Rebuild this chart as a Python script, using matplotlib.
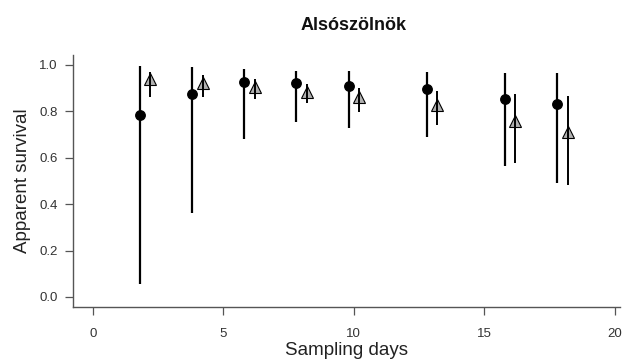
import matplotlib

matplotlib.use("Agg")
import matplotlib.pyplot as plt
import numpy as np

plt.rcParams["font.family"] = ["Liberation Sans", "DejaVu Sans"]

# sampling days, circles drawn slightly left, triangles slightly right
days = np.array([2, 4, 6, 8, 10, 13, 16, 18])
offset = 0.2

circle_est = [0.786, 0.874, 0.925, 0.921, 0.908, 0.895, 0.853, 0.833]
circle_lo = [0.055, 0.361, 0.680, 0.754, 0.727, 0.688, 0.566, 0.493]
circle_hi = [0.996, 0.990, 0.984, 0.975, 0.975, 0.970, 0.964, 0.964]

tri_est = [0.938, 0.921, 0.906, 0.885, 0.861, 0.829, 0.759, 0.712]
tri_lo = [0.863, 0.863, 0.852, 0.835, 0.799, 0.741, 0.576, 0.483]
tri_hi = [0.968, 0.955, 0.938, 0.918, 0.899, 0.889, 0.875, 0.866]

fig = plt.figure(figsize=(6.26, 3.62), dpi=100)
ax = fig.add_axes([0.1166, 0.1528, 0.8734, 0.6952])

xc = days - offset
xt = days + offset

ax.vlines(xc, circle_lo, circle_hi, color="black", lw=1.6, zorder=3)
ax.plot(xc, circle_est, "o", color="black", ms=6.8, zorder=4)

ax.plot(xt, tri_est, "^", mfc="#b0b0b0", mec="black", mew=0.8, ms=8.5, zorder=2)
ax.vlines(xt, tri_lo, tri_hi, color="black", lw=1.4, zorder=3)

ax.set_xlim(-0.77, 20.2)
ax.set_ylim(-0.042, 1.043)
ax.set_xticks([0, 5, 10, 15, 20])
ax.set_yticks([0.0, 0.2, 0.4, 0.6, 0.8, 1.0])
ax.set_yticklabels(["0.0", "0.2", "0.4", "0.6", "0.8", "1.0"])

for s in ["top", "right"]:
    ax.spines[s].set_visible(False)
for s in ["left", "bottom"]:
    ax.spines[s].set_color("#555555")
    ax.spines[s].set_linewidth(1.0)

ax.tick_params(axis="both", direction="out", length=6, width=0.9,
               color="#555555", labelsize=9.5, labelcolor="#333333")
ax.tick_params(axis="x", pad=9)
ax.tick_params(axis="y", pad=5)

ax.set_xlabel("Sampling days", fontsize=13.5, color="#222222", labelpad=2)
ax.set_ylabel("Apparent survival", fontsize=13.5, color="#222222", labelpad=6)
fig.text(0.564, 0.93, "Alsószölnök", ha="center", va="center",
         fontsize=13, fontweight="bold", color="#111111")

fig.savefig("out.png", dpi=100)
